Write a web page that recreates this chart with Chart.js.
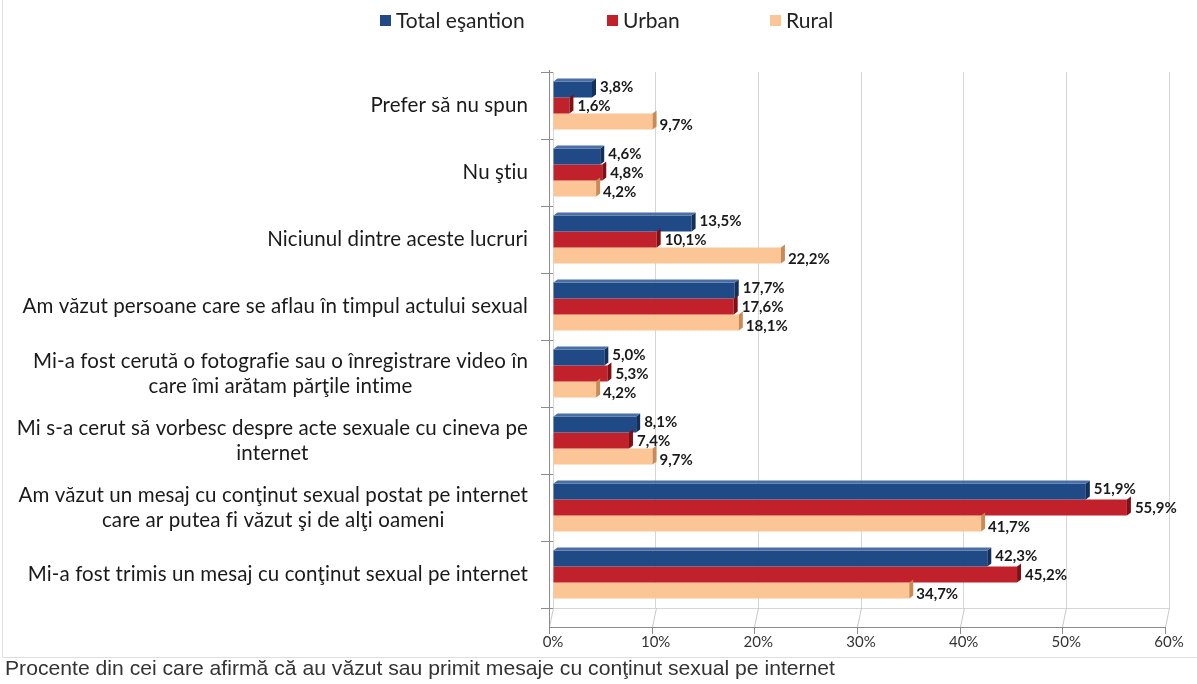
<!DOCTYPE html>
<html lang="ro">
<head>
<meta charset="utf-8">
<title>Conţinut sexual pe internet</title>
<script src="https://cdn.jsdelivr.net/npm/chart.js@4/dist/chart.umd.min.js"></script>
<style>
  html, body { margin: 0; padding: 0; background: #fff; }
  #wrap { position: relative; width: 1197px; height: 684px; }
</style>
</head>
<body>
<div id="wrap"><canvas id="chart" width="1197" height="684"></canvas></div>
<script>
// --- DATA ---
const categories = [
  'Prefer să nu spun',
  'Nu ştiu',
  'Niciunul dintre aceste lucruri',
  'Am văzut persoane care se aflau în timpul actului sexual',
  ['Mi-a fost cerută o fotografie sau o înregistrare video în', 'care îmi arătam părţile intime'],
  ['Mi s-a cerut să vorbesc despre acte sexuale cu cineva pe', 'internet'],
  ['Am văzut un mesaj cu conţinut sexual postat pe internet', 'care ar putea fi văzut şi de alţi oameni'],
  'Mi-a fost trimis un mesaj cu conţinut sexual pe internet'
];
const seriesNames = ['Total eşantion', 'Urban', 'Rural'];
const totalValues = [3.8, 4.6, 13.5, 17.7, 5.0, 8.1, 51.9, 42.3];
const urbanValues = [1.6, 4.8, 10.1, 17.6, 5.3, 7.4, 55.9, 45.2];
const ruralValues = [9.7, 4.2, 22.2, 18.1, 4.2, 9.7, 41.7, 34.7];
const xTicks = [0, 10, 20, 30, 40, 50, 60];
const caption = 'Procente din cei care afirmă că au văzut sau primit mesaje cu conţinut sexual pe internet';

const colors = ['#1f4a85', '#c1212b', '#fbc595'];
const sideColors = ['#12305a', '#7e1016', '#c98a55'];
const topColors = ['#4a6fa5', '#d85a60', '#fddcbc'];

// --- PLUGINS ---
const chartFrame = {
  id: 'chartFrame',
  beforeDraw(chart) {
    const ctx = chart.ctx;
    ctx.save();
    ctx.fillStyle = '#fff';
    ctx.fillRect(0, 0, chart.width, chart.height);
    ctx.strokeStyle = '#dedede';
    ctx.lineWidth = 1;
    ctx.beginPath();
    ctx.moveTo(2.5, 0);
    ctx.lineTo(2.5, 657.5);
    ctx.lineTo(chart.width, 657.5);
    ctx.stroke();
    ctx.restore();
  },
  afterDraw(chart) {
    const ctx = chart.ctx;
    ctx.save();
    // legend
    ctx.font = '21px Lato';
    ctx.textBaseline = 'middle';
    ctx.textAlign = 'left';
    const startX = [380, 607, 770];
    chart.data.datasets.forEach((ds, i) => {
      ctx.fillStyle = ds.backgroundColor;
      ctx.fillRect(startX[i], 15, 11, 11);
      ctx.fillStyle = '#222';
      ctx.fillText(ds.label, startX[i] + 16, 21);
    });
    // caption, squeezed like a narrow face
    ctx.font = '21px "Liberation Sans"';
    ctx.fillStyle = '#333';
    const w = ctx.measureText(caption).width;
    ctx.translate(5, 669);
    ctx.scale(830 / w, 1);
    ctx.fillText(caption, 0, 0);
    ctx.restore();
  }
};

// 3D floor under the plot, like the original spreadsheet chart
const floor3d = {
  id: 'floor3d',
  beforeDatasetsDraw(chart) {
    const ctx = chart.ctx;
    const x = chart.scales.x;
    const { top, bottom, left } = chart.chartArea;
    const depthX = 4, depthY = 19;
    ctx.save();
    ctx.lineWidth = 1;
    ctx.strokeStyle = '#c8c8c8';
    xTicks.forEach(v => {
      const px = Math.round(x.getPixelForValue(v)) + 0.5;
      ctx.beginPath();
      ctx.moveTo(px, bottom);
      ctx.lineTo(px - depthX, bottom + depthY);
      ctx.stroke();
    });
    ctx.strokeStyle = '#8c8c8c';
    ctx.beginPath();
    ctx.moveTo(left - depthX + 0.5, top - 2);
    ctx.lineTo(left - depthX + 0.5, bottom + depthY + 0.5);
    ctx.lineTo(x.getPixelForValue(60) - depthX, bottom + depthY + 0.5);
    ctx.stroke();
    xTicks.forEach(v => {
      const px = Math.round(x.getPixelForValue(v)) - depthX + 0.5;
      ctx.beginPath();
      ctx.moveTo(px, bottom + depthY);
      ctx.lineTo(px, bottom + depthY + 7);
      ctx.stroke();
    });
    ctx.restore();
  }
};

const categoryLabels = {
  id: 'categoryLabels',
  afterDraw(chart) {
    const ctx = chart.ctx;
    const yScale = chart.scales.y;
    ctx.save();
    ctx.font = '20.5px Lato';
    ctx.letterSpacing = '0.1px';
    ctx.fillStyle = '#1a1a1a';
    ctx.textAlign = 'center';
    ctx.textBaseline = 'middle';
    categories.forEach((label, i) => {
      const lines = Array.isArray(label) ? label : [label];
      const blockW = Math.max(...lines.map(l => ctx.measureText(l).width));
      const cx = 528 - blockW / 2;
      const cy = yScale.getPixelForTick(i);
      lines.forEach((line, j) => {
        ctx.fillText(line, cx, cy + (j - (lines.length - 1) / 2) * 25);
      });
    });
    ctx.restore();
  }
};

const barDepth = {
  id: 'barDepth',
  afterDatasetsDraw(chart) {
    const ctx = chart.ctx;
    const dx = 4, dy = 3;
    ctx.save();
    chart.data.datasets.forEach((ds, di) => {
      const meta = chart.getDatasetMeta(di);
      meta.data.forEach(bar => {
        const top = bar.y - bar.height / 2;
        const bot = bar.y + bar.height / 2;
        // end face
        ctx.fillStyle = sideColors[di];
        ctx.beginPath();
        ctx.moveTo(bar.x, top);
        ctx.lineTo(bar.x + dx, top - dy);
        ctx.lineTo(bar.x + dx, bot - dy);
        ctx.lineTo(bar.x, bot);
        ctx.closePath();
        ctx.fill();
        if (di === 0) {
          ctx.fillStyle = topColors[di];
          ctx.beginPath();
          ctx.moveTo(bar.base, top);
          ctx.lineTo(bar.base + dx, top - dy);
          ctx.lineTo(bar.x + dx, top - dy);
          ctx.lineTo(bar.x, top);
          ctx.closePath();
          ctx.fill();
        }
      });
    });
    ctx.restore();
  }
};

const valueLabels = {
  id: 'valueLabels',
  afterDatasetsDraw(chart) {
    const ctx = chart.ctx;
    const offsets = [[8, -2], [8, 1], [7, 4]];
    ctx.save();
    ctx.font = 'bold 15px Lato';
    ctx.fillStyle = '#1a1a1a';
    ctx.textAlign = 'left';
    ctx.textBaseline = 'middle';
    chart.data.datasets.forEach((ds, di) => {
      const meta = chart.getDatasetMeta(di);
      meta.data.forEach((bar, i) => {
        const txt = ds.data[i].toFixed(1).replace('.', ',') + '%';
        ctx.fillText(txt, bar.x + offsets[di][0], bar.y + offsets[di][1]);
      });
    });
    ctx.restore();
  }
};

// --- CHART ---
const seriesValues = [totalValues, urbanValues, ruralValues];

new Chart(document.getElementById('chart'), {
  type: 'bar',
  data: {
    labels: categories,
    datasets: seriesNames.map((name, i) => ({
      label: name,
      data: seriesValues[i],
      backgroundColor: colors[i],
      borderWidth: 0,
      categoryPercentage: 0.72,
      barPercentage: 1.0
    }))
  },
  options: {
    indexAxis: 'y',
    responsive: false,
    animation: false,
    layout: { padding: { left: 0, right: 28, top: 72, bottom: 0 } },
    plugins: {
      legend: { display: false },
      tooltip: { enabled: false }
    },
    scales: {
      x: {
        min: 0,
        max: 60,
        afterBuildTicks: scale => { scale.ticks = xTicks.map(v => ({ value: v })); },
        afterFit: scale => { scale.height = 76; },
        grid: { color: '#d6d6d6', tickColor: 'transparent', tickLength: 17 },
        border: { color: '#d6d6d6' },
        ticks: {
          padding: 8,
          color: '#333',
          font: { family: 'Lato', size: 15 },
          callback: v => v + '%'
        }
      },
      y: {
        afterFit: scale => { scale.width = 553; },
        grid: { drawOnChartArea: false, tickColor: '#8c8c8c', tickLength: 12 },
        border: { display: false },
        ticks: { color: 'transparent', font: { family: 'Lato', size: 17 } }
      }
    }
  },
  plugins: [chartFrame, floor3d, barDepth, valueLabels, categoryLabels]
});
</script>
</body>
</html>
